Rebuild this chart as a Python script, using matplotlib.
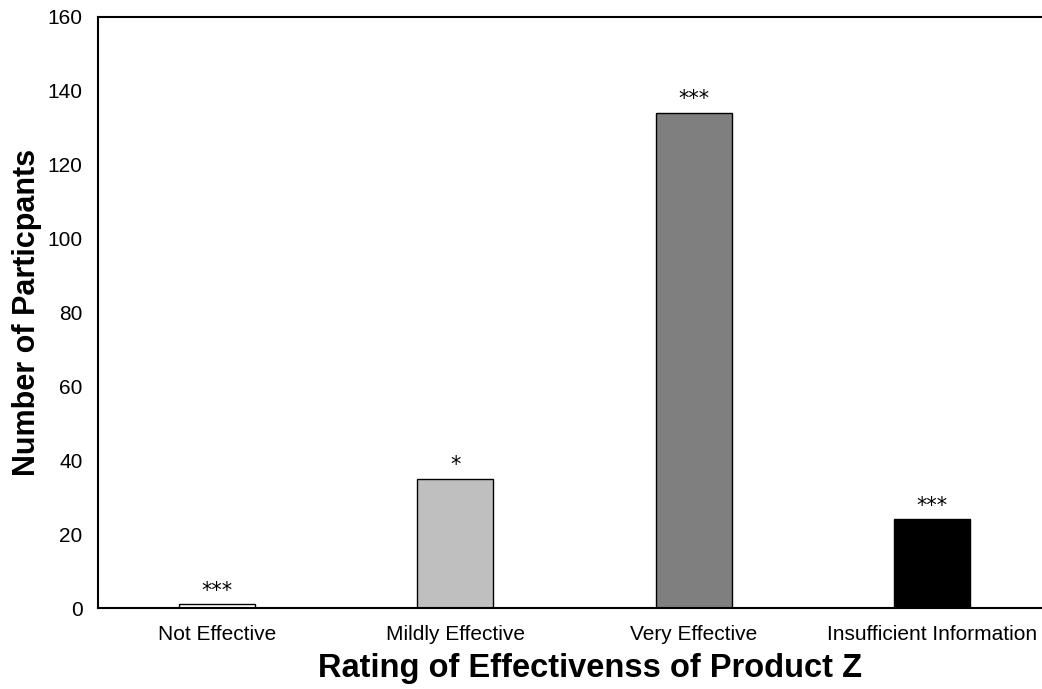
import matplotlib
matplotlib.use("Agg")
import matplotlib.pyplot as plt

categories = ["Not Effective", "Mildly Effective", "Very Effective", "Insufficient Information"]
participants = [1, 35, 134, 24]
significance = ["***", "*", "***", "***"]
bar_colors = ["#ffffff", "#bfbfbf", "#7f7f7f", "#000000"]
y_ticks = [0, 20, 40, 60, 80, 100, 120, 140, 160]

plt.rcParams["font.family"] = ["Liberation Sans", "DejaVu Sans"]

fig = plt.figure(figsize=(10.42, 6.89), dpi=100)
W, H = 1042, 689
left, right, top, bottom = 98, 1051, 17, 608
ax = fig.add_axes([left / W, 1 - bottom / H, (right - left) / W, (bottom - top) / H])

x = list(range(len(categories)))
ax.bar(x, participants, width=0.32, color=bar_colors, edgecolor="black", linewidth=1.0)

for xi, v, s in zip(x, participants, significance):
    ax.text(xi, v + 1.0, s, ha="center", va="bottom", fontsize=15, family="DejaVu Sans")

ax.set_xlim(-0.5, 3.5)
ax.set_ylim(0, 160)
ax.set_yticks(y_ticks)
ax.set_xticks(x)
ax.set_xticklabels(categories)
ax.tick_params(axis="both", length=0, labelsize=15)
ax.tick_params(axis="x", pad=12)
ax.tick_params(axis="y", pad=11)

for sp in ax.spines.values():
    sp.set_linewidth(1.5)
    sp.set_color("black")

ax.set_xlabel("Rating of Effectivenss of Product Z", fontsize=23.5, fontweight="bold")
ax.xaxis.set_label_coords((590 - left) / (right - left), -(668 - bottom) / (bottom - top))
ax.xaxis.label.set_va("center")
ax.set_ylabel("Number of Particpants", fontsize=22, fontweight="bold")
ax.yaxis.set_label_coords(-(left - 27) / (right - left), 0.5)
ax.yaxis.label.set_va("center")

fig.savefig("out.png", dpi=100)
